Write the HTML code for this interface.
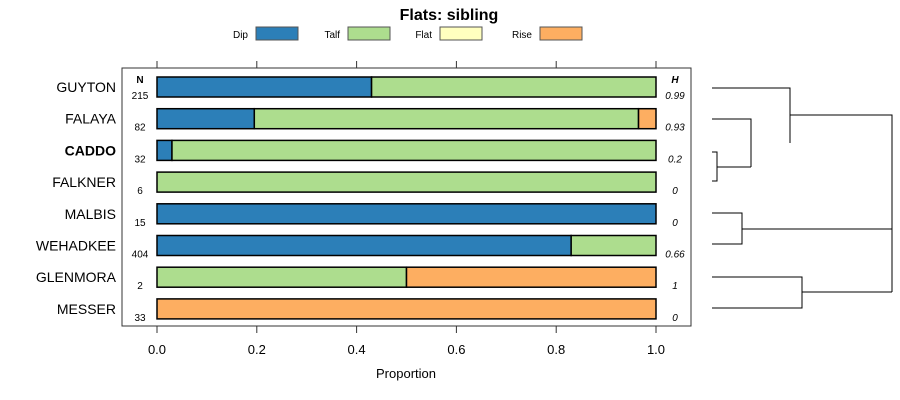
<!DOCTYPE html>
<html><head><meta charset="utf-8"><style>
body{margin:0;background:#fff}
svg{display:block;font-family:"Liberation Sans",sans-serif}
</style></head><body>
<svg id="c" width="900" height="400">
<text x="449" y="20" text-anchor="middle" font-size="16" font-weight="bold">Flats: sibling</text>
<g id="legend"></g>
<rect x="122" y="68" width="569" height="258" fill="none" stroke="#333"/>
<g id="ax"></g>
<g id="bars"></g>
<text x="140" y="83" text-anchor="middle" font-size="10" font-weight="bold">N</text>
<text x="675" y="83" text-anchor="middle" font-size="10" font-weight="bold" font-style="italic">H</text>
<text x="406" y="378" text-anchor="middle" font-size="13">Proportion</text>
<g id="dendro" fill="none" stroke="#000" stroke-width="1">
<path d="M712 88H790V143M712 119H751V167M712 152H717V181H712M717 167H751M790 115H892V292M712 213H742V244H712M742 229H892M712 277H802V308H712M802 292H892"/>
</g>
</svg>
<script>
const categories=["GUYTON","FALAYA","CADDO","FALKNER","MALBIS","WEHADKEE","GLENMORA","MESSER"];
const counts=[215,82,32,6,15,404,2,33];
const entropy=["0.99","0.93","0.2","0","0","0.66","1","0"];
const dip=[0.43,0.195,0.03,0,1,0.83,0,0];
const talf=[0.57,0.77,0.97,1,0,0.17,0.5,0];
const flat=[0,0,0,0,0,0,0,0];
const rise=[0,0.035,0,0,0,0,0.5,1];
const ticks=[0,0.2,0.4,0.6,0.8,1.0];
const tickLabels=["0.0","0.2","0.4","0.6","0.8","1.0"];
const seriesNames=["Dip","Talf","Flat","Rise"];
const colors=["#2c7fb8","#addd8e","#ffffbf","#fdae61"];
const NS="http://www.w3.org/2000/svg";
const x=v=>157+v*499;
const y=i=>87+i*31.7;
function mk(tag,at,parent,txt){const e=document.createElementNS(NS,tag);for(const k in at)e.setAttribute(k,at[k]);if(txt!=null)e.textContent=txt;parent.appendChild(e);return e;}
const ax=document.getElementById('ax');
ticks.forEach((t,i)=>{
 let l=mk('line',{x1:x(t),x2:x(t),y1:326,y2:333,stroke:'#333'},ax);
 
 
 let l2=mk('line',{x1:x(t),x2:x(t),y1:61,y2:68,stroke:'#333'},ax);
 
 
 let tx=mk('text',{x:x(t),y:354,'text-anchor':'middle','font-size':13},ax,tickLabels[i]);
 
 
});
const lg=document.getElementById('legend');
const lgx=[256,348,440,540];
seriesNames.forEach((n,i)=>{
 let t=mk('text',{x:lgx[i]-8,y:38,'text-anchor':'end','font-size':10},lg,n);
 
 
 let r=mk('rect',{x:lgx[i],y:27,width:42,height:13,fill:colors[i],stroke:'#555'},lg);
 
 
});
const bg=document.getElementById('bars');
const series=[dip,talf,flat,rise];
categories.forEach((c,i)=>{
 const cy=y(i);
 let lab=mk('text',{x:116,y:cy+5,'text-anchor':'end','font-size':14,'font-weight':c==="CADDO"?'bold':'normal'},bg,c);
 
 
 let n=mk('text',{x:140,y:cy+12,'text-anchor':'middle','font-size':10},bg,counts[i]);
 
 
 let h=mk('text',{x:675,y:cy+12,'text-anchor':'middle','font-size':10,'font-style':'italic'},bg,entropy[i]);
 
 
 let acc=0;
 series.forEach((s,k)=>{
  const v=s[i];
  if(v>0){
   let r=mk('rect',{x:x(acc),y:cy-10,width:x(acc+v)-x(acc),height:20,fill:colors[k],stroke:'#000','stroke-width':1.5},bg);
   
   
  }
  acc+=v;
 });
});
</script>
</body></html>
